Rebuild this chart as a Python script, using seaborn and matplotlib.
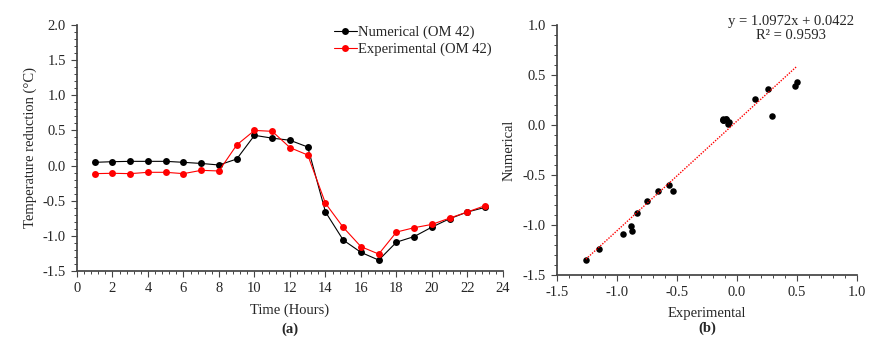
import numpy as np
import pandas as pd
import matplotlib
matplotlib.use("Agg")
import matplotlib.pyplot as plt
import seaborn as sns
from matplotlib.ticker import MultipleLocator, FormatStrFormatter

hours = list(range(1, 24))
numerical = [0.046, 0.055, 0.06, 0.06, 0.06, 0.046, 0.03, 0.008, 0.093, 0.43, 0.39,
             0.36, 0.264, -0.66, -1.06, -1.235, -1.345, -1.09, -1.01, -0.875, -0.756,
             -0.66, -0.595]
experimental = [-0.115, -0.11, -0.115, -0.096, -0.096, -0.115, -0.068, -0.077, 0.293,
                0.50, 0.487, 0.255, 0.15, -0.537, -0.879, -1.154, -1.259, -0.946,
                -0.884, -0.837, -0.747, -0.66, -0.57]
eq_text = "y = 1.0972x + 0.0422"
r2_text = "R² = 0.9593"
series_names = ["Numerical (OM 42)", "Experimental (OM 42)"]

sns.set_theme(style="ticks")
plt.rcParams["font.family"] = ["Liberation Serif", "DejaVu Serif"]

df = pd.DataFrame({"hour": hours * 2,
                   "value": numerical + experimental,
                   "series": [series_names[0]] * len(hours) + [series_names[1]] * len(hours)})

fig = plt.figure(figsize=(8.83, 3.56), dpi=100)
ax1 = fig.add_axes([0.0872, 0.2388, 0.4824, 0.691])
ax2 = fig.add_axes([0.6308, 0.2275, 0.3398, 0.702])

fs = 10.5
sns.lineplot(data=df, x="hour", y="value", hue="series", palette=["black", "red"],
             marker="o", markersize=5, markeredgewidth=0, linewidth=0.8, ax=ax1)
ax1.set_xlim(0, 24)
ax1.set_ylim(-1.5, 2.0)
ax1.xaxis.set_major_locator(MultipleLocator(2))
ax1.xaxis.set_minor_locator(MultipleLocator(0.4))
ax1.yaxis.set_major_locator(MultipleLocator(0.5))
ax1.yaxis.set_minor_locator(MultipleLocator(0.1))
ax1.yaxis.set_major_formatter(FormatStrFormatter("%.1f"))
ax1.set_xlabel("Time (Hours)", fontsize=fs, labelpad=6)
ax1.set_ylabel("Temperature reduction (°C)", fontsize=fs, labelpad=4)
leg = ax1.legend(loc="upper right", bbox_to_anchor=(1.005, 1.05), frameon=False,
                 fontsize=fs, handlelength=1.6, handletextpad=0.1, labelspacing=0.25)
ax1.text(0.5, -0.235, "(a)", transform=ax1.transAxes, ha="center", va="center",
         fontsize=fs, fontweight="bold")

sns.regplot(x=experimental, y=numerical, ci=None, ax=ax2,
            scatter_kws=dict(color="black", s=22, linewidths=0, alpha=1),
            line_kws=dict(color="red", linestyle=(0, (1, 1)), linewidth=1.0))
ax2.set_xlim(-1.5, 1.0)
ax2.set_ylim(-1.5, 1.0)
for a in (ax2.xaxis, ax2.yaxis):
    a.set_major_locator(MultipleLocator(0.5))
    a.set_minor_locator(MultipleLocator(0.1))
    a.set_major_formatter(FormatStrFormatter("%.1f"))
ax2.set_xlabel("Experimental", fontsize=fs, labelpad=6)
ax2.set_ylabel("Numerical", fontsize=fs, labelpad=5)
ax2.text(0.78, 1.04, eq_text + "\n" + r2_text, transform=ax2.transAxes,
         ha="center", va="top", fontsize=fs, linespacing=1.1)
ax2.text(0.5, -0.215, "(b)", transform=ax2.transAxes, ha="center", va="center",
         fontsize=fs, fontweight="bold")

for ax in (ax1, ax2):
    sns.despine(ax=ax)
    ax.spines["left"].set_color("#444444")
    ax.spines["bottom"].set_color("#444444")
    ax.tick_params(which="major", direction="out", length=4, width=0.8, labelsize=fs,
                   color="#444444", pad=4)
    ax.tick_params(which="minor", direction="out", length=2.5, width=0.7, color="#444444")

fig.savefig("out.png", dpi=100)
